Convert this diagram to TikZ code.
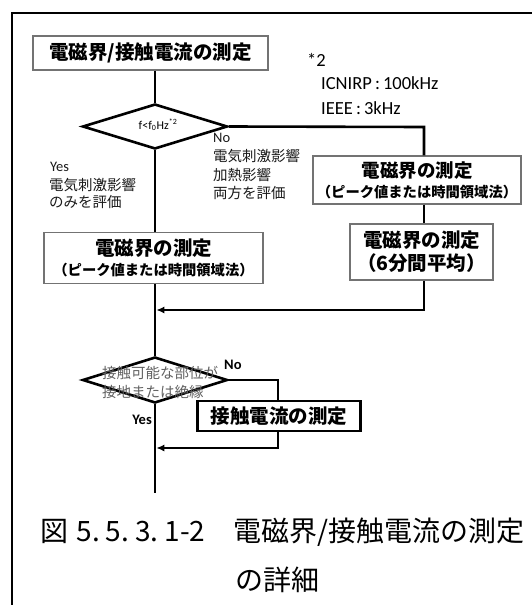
\documentclass[tikz,border=0pt]{standalone}
\usepackage{fontspec}
\setmainfont{Carlito}
\newfontfamily\jp{Noto Sans CJK JP}
\usetikzlibrary{shapes.geometric,arrows.meta}
\tikzset{
  box/.style={draw=black!55, line width=1.3pt, fill=white, inner sep=0pt, align=center},
  twoline/.style={font=\jp\bfseries\fontsize{14.3}{20}\selectfont},
  twobig/.style={font=\jp\bfseries\fontsize{19.5}{23}\selectfont},
  dia/.style={draw=black, line width=2.6pt, diamond, inner sep=0pt, minimum width=145pt, minimum height=45pt},
  conn/.style={draw=black, line width=2.6pt},
  arr/.style={conn, -{Latex[length=8pt,width=7pt]}},
  lab/.style={inner sep=0pt, text=black!90},
}
\newcommand{\bigL}{\jp\bfseries\fontsize{19.5}{23}\selectfont}
\newcommand{\midL}{\jp\bfseries\fontsize{18.5}{22}\selectfont}
\newcommand{\smL}{\jp\bfseries\fontsize{14.3}{17}\selectfont}
\newcommand{\labJ}{\jp\fontsize{14.5}{17}\selectfont}
\newcommand{\labE}{\fontsize{14.5}{17}\selectfont}
\begin{document}
\begin{tikzpicture}[x=1pt,y=-1pt]
\useasboundingbox (0,0) rectangle (532,605);
% frame
\draw[line width=2pt] (11.5,605) -- (11.5,13) -- (532,13);

% nodes
\node[box, minimum width=235pt, minimum height=34pt] (top) at (150.5,53)
  {\jp\bfseries\fontsize{19.5}{22}\selectfont 電磁界/接触電流の測定};
\node[dia] (d1) at (155,126.5) {};
\node[inner sep=0pt, font=\fontsize{12}{14}\selectfont] (t1) at (158,125)
  {f<f\textsubscript{0}Hz\textsuperscript{*2}};
\node[box, twoline, minimum width=208pt, minimum height=48pt] (rb1) at (417,180)
  {{\midL 電磁界の測定}\\{\smL （ピーク値または時間領域法）}};
\node[box, twobig, minimum width=143pt, minimum height=56pt] (rb2) at (421.5,252)
  {{\bigL 電磁界の測定}\\{\bigL （6分間平均）}};
\node[box, twoline, minimum width=219pt, minimum height=51pt] (lb) at (153.5,258)
  {{\bigL 電磁界の測定}\\{\smL （ピーク値または時間領域法）}};
\node[dia, minimum height=46pt] (d2) at (155,380) {};
\node[inner sep=0pt, anchor=west, text=black!62] (t2a) at (102,373) {\labJ 接触可能な部位が};
\node[inner sep=0pt, anchor=west, text=black!62] (t2b) at (102,392) {\labJ 接地または絶縁};
\node[draw=black, line width=2.6pt, fill=white, minimum width=163pt, minimum height=30pt, inner sep=0pt] (b4) at (279,416)
  {\bigL 接触電流の測定};

% junction coordinates
\coordinate (k1) at (424,127);
\coordinate (k2) at (424,310);
\coordinate (j1) at (156.3,310);
\coordinate (k3) at (278,380);
\coordinate (k4) at (278,448);
\coordinate (j2) at (156.3,448);
\coordinate (endp) at (155,493);

% connectors
\draw[conn] (top.south -| d1.north) -- (d1.north);
\draw[conn] (d1.east) -- (k1) -- (k1 |- rb1.north);
\draw[conn] (k1 |- rb1.south) -- (k1 |- rb2.north);
\draw[arr] (k2 |- rb2.south) -- (k2) -- (j1);
\draw[conn] (d1.south) -- (d1.south |- lb.north);
\draw[conn] (d1.south |- lb.south) -- (d2.north);
\draw[conn] (d2.east) -- (k3) -- (k3 |- b4.north);
\draw[arr] (k3 |- b4.south) -- (k4) -- (j2);
\draw[conn] (d2.south) -- (endp);

% footnote
\node[inner sep=0pt, anchor=west, font=\fontsize{18.5}{22}\selectfont] (n0) at (307,60) {*2};
\node[inner sep=0pt, anchor=west, font=\fontsize{18.5}{22}\selectfont] (n1) at (321,83) {ICNIRP\,:\,100kHz};
\node[inner sep=0pt, anchor=west, font=\fontsize{18.5}{22}\selectfont] (n2) at (321,108) {IEEE\,:\,3kHz};

% branch labels (No side)
\node[lab, anchor=west] (no1) at (213,138) {\labE No};
\node[lab, anchor=west] (no1a) at (213,156) {\labJ 電気刺激影響};
\node[lab, anchor=west] (no1b) at (213,175) {\labJ 加熱影響};
\node[lab, anchor=west] (no1c) at (213,193) {\labJ 両方を評価};
% branch labels (Yes side)
\node[lab, anchor=west] (yes1) at (50,167) {\labE Yes};
\node[lab, anchor=west] (yes1a) at (49,185) {\labJ 電気刺激影響};
\node[lab, anchor=west] (yes1b) at (49,202) {\labJ のみを評価};
% second decision labels
\node[inner sep=0pt, anchor=west, font=\bfseries\fontsize{14.5}{17}\selectfont] (no2) at (224,365) {No};
\node[inner sep=0pt, anchor=east, font=\bfseries\fontsize{14.5}{17}\selectfont] (yes2) at (152,420) {Yes};

% caption
\node[inner sep=0pt, font=\jp\fontsize{28}{30}\selectfont] (cap1) at (282.5,532)
  {図\kern8pt 5.\kern6pt5.\kern6pt3.\kern6pt1-2　電磁界/接触電流の測定};
\node[inner sep=0pt, font=\jp\fontsize{28}{30}\selectfont] (cap2) at (277.5,580) {の詳細};
\end{tikzpicture}
\end{document}
